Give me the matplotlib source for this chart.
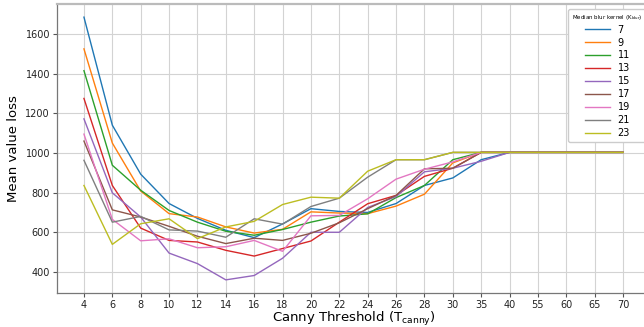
import numpy as np
import matplotlib.pyplot as plt

# canny thresholds (categorical x axis)
thresholds = [4, 6, 8, 10, 12, 14, 16, 18, 20, 22, 24, 26, 28, 30, 35, 40, 55, 60, 65, 70]
kernels = [7, 9, 11, 13, 15, 17, 19, 21, 23]

k7 = [1685, 1140, 893, 745, 670, 610, 573, 642, 719, 705, 700, 745, 836, 874, 966, 1003, 1003, 1003, 1003, 1003]
k9 = [1525, 1050, 808, 694, 677, 627, 596, 615, 703, 697, 694, 732, 792, 950, 1003, 1003, 1003, 1003, 1003, 1003]
k11 = [1415, 938, 812, 710, 651, 605, 585, 614, 651, 682, 693, 775, 836, 966, 1003, 1003, 1003, 1003, 1003, 1003]
k13 = [1275, 836, 621, 559, 551, 509, 480, 518, 556, 651, 744, 786, 882, 923, 1003, 1003, 1003, 1003, 1003, 1003]
k15 = [1172, 799, 677, 495, 442, 360, 382, 469, 600, 600, 725, 780, 905, 923, 958, 1003, 1003, 1003, 1003, 1003]
k17 = [1060, 713, 677, 630, 580, 543, 570, 559, 595, 648, 719, 786, 920, 923, 1003, 1003, 1003, 1003, 1003, 1003]
k19 = [1095, 665, 557, 567, 522, 527, 559, 504, 683, 685, 769, 868, 918, 955, 1003, 1003, 1003, 1003, 1003, 1003]
k21 = [963, 651, 680, 612, 606, 575, 668, 641, 730, 772, 878, 966, 966, 1003, 1003, 1003, 1003, 1003, 1003, 1003]
k23 = [836, 539, 643, 668, 568, 627, 655, 740, 777, 772, 908, 966, 966, 1003, 1003, 1003, 1003, 1003, 1003, 1003]

series = [k7, k9, k11, k13, k15, k17, k19, k21, k23]

fig = plt.figure(figsize=(6.44, 3.27), dpi=100)
# axes runs a bit past the right edge (original was cropped)
ax = fig.add_axes([57 / 644, 1 - 293 / 327, 593 / 644, 289 / 327])

x = np.arange(len(thresholds))
for k, vals in zip(kernels, series):
    ax.plot(x, vals, lw=1.0, label=str(k))

ax.set_xticks(x)
ax.set_xticklabels([str(t) for t in thresholds])
ax.set_xlim(-0.95, len(thresholds) - 0.05)
ax.grid(True, color='#d3d3d3', lw=0.8)
ax.set_axisbelow(True)
ax.tick_params(labelsize=7, length=3, pad=2, color='#555555', labelcolor='#222222')

for s in ['left', 'bottom']:
    ax.spines[s].set_color('#777777')
    ax.spines[s].set_linewidth(0.9)
ax.spines['top'].set_color('#bbbbbb')
ax.spines['top'].set_linewidth(1.6)
ax.spines['right'].set_visible(False)

ax.set_xlabel('Canny Threshold (T$_{\\mathrm{canny}}$)', fontsize=9.5, labelpad=0)
ax.set_ylabel('Mean value loss', fontsize=9.5, labelpad=4)

leg = ax.legend(title='Median blur kernel (K$_{\\mathrm{blur}}$)', loc='upper right',
                bbox_to_anchor=(1.002, 1.0), fontsize=7, title_fontsize=4,
                handlelength=2.6, labelspacing=0.3, borderpad=0.4, framealpha=1)

fig.savefig('out.png', dpi=100)
